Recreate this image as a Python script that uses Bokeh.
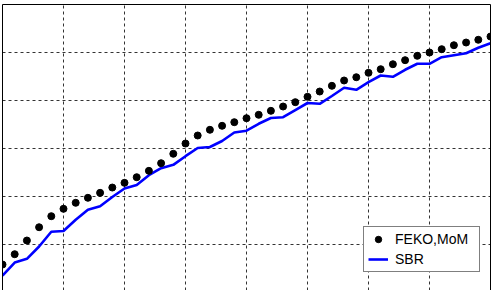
from bokeh.plotting import figure
from bokeh.models import (LinearAxis, Grid, FixedTicker, Range1d, Legend, LegendItem)
from bokeh.embed import file_html
from bokeh.resources import INLINE

# ---- data ----
x_vals = list(range(0, 41))
feko_mom = [-24.17, -22.02, -19.17, -16.40, -14.10, -12.56, -11.31, -10.27, -9.23, -8.13,
            -7.15, -5.98, -4.65, -3.06, -1.10, 1.04, 2.71, 3.90, 4.73, 5.48,
            6.31, 7.02, 7.85, 8.75, 9.65, 10.77, 11.87, 13.06, 14.17, 14.85,
            15.77, 16.52, 17.56, 18.40, 19.31, 20.00, 20.69, 21.52, 22.08, 22.65,
            23.33]
sbr = [-26.46, -23.75, -22.98, -20.42, -17.35, -17.19, -14.85, -12.77, -12.04, -10.10,
       -8.33, -7.60, -5.56, -4.10, -3.40, -1.60, 0.10, 0.31, 1.56, 3.33,
       3.71, 5.15, 6.35, 6.52, 8.02, 9.48, 9.31, 10.94, 12.65, 12.23,
       13.81, 15.21, 14.94, 16.40, 17.65, 17.65, 19.02, 19.44, 19.85, 20.98,
       21.94]
x_ticks = [0, 5, 10, 15, 20, 25, 30, 35, 40]
y_ticks = [-30, -20, -10, 0, 10, 20, 30]
x_start, x_end = 0, 40
y_start, y_end = -29.58, 30

p = figure(width=496, height=290, output_backend="svg", toolbar_location=None,
           x_range=Range1d(x_start, x_end), y_range=Range1d(y_start, y_end),
           x_axis_location=None, y_axis_location=None,
           min_border_left=2, min_border_right=6, min_border_top=4, min_border_bottom=0,
           background_fill_color="white", border_fill_color="white")
p.outline_line_color = None
p.xgrid.visible = False
p.ygrid.visible = False

# frame border on left / right / top (bottom edge is cut off in the reference)
for side in ["left", "right", "above"]:
    ax = LinearAxis(ticker=FixedTicker(ticks=[]),
                    major_tick_line_color=None, minor_tick_line_color=None,
                    major_label_standoff=0, major_tick_in=0, major_tick_out=0,
                    axis_line_color="black", axis_line_width=1)
    p.add_layout(ax, side)

gx = Grid(dimension=0, ticker=FixedTicker(ticks=x_ticks), grid_line_color="#333333",
          grid_line_dash="3 3", grid_line_width=1)
gy = Grid(dimension=1, ticker=FixedTicker(ticks=y_ticks), grid_line_color="#333333",
          grid_line_dash="3 3", grid_line_width=1)
p.add_layout(gx)
p.add_layout(gy)

r_line = p.line(x_vals, sbr, line_color="#0000ff", line_width=2.6)
r_dots = p.scatter(x_vals, feko_mom, size=7, fill_color="black", line_color="black")

legend = Legend(items=[LegendItem(label="FEKO,MoM", renderers=[r_dots]),
                       LegendItem(label="SBR", renderers=[r_line])],
                location=(361, 18), margin=0, padding=4, spacing=4,
                glyph_width=20, glyph_height=16, label_height=16, label_width=80,
                label_standoff=7, label_text_font="Liberation Sans",
                label_text_font_size="14px", label_text_color="black",
                border_line_color="black", border_line_width=1,
                background_fill_color="white", background_fill_alpha=1.0)
p.add_layout(legend, "center")

open("out.html", "w").write(file_html(p, INLINE))
